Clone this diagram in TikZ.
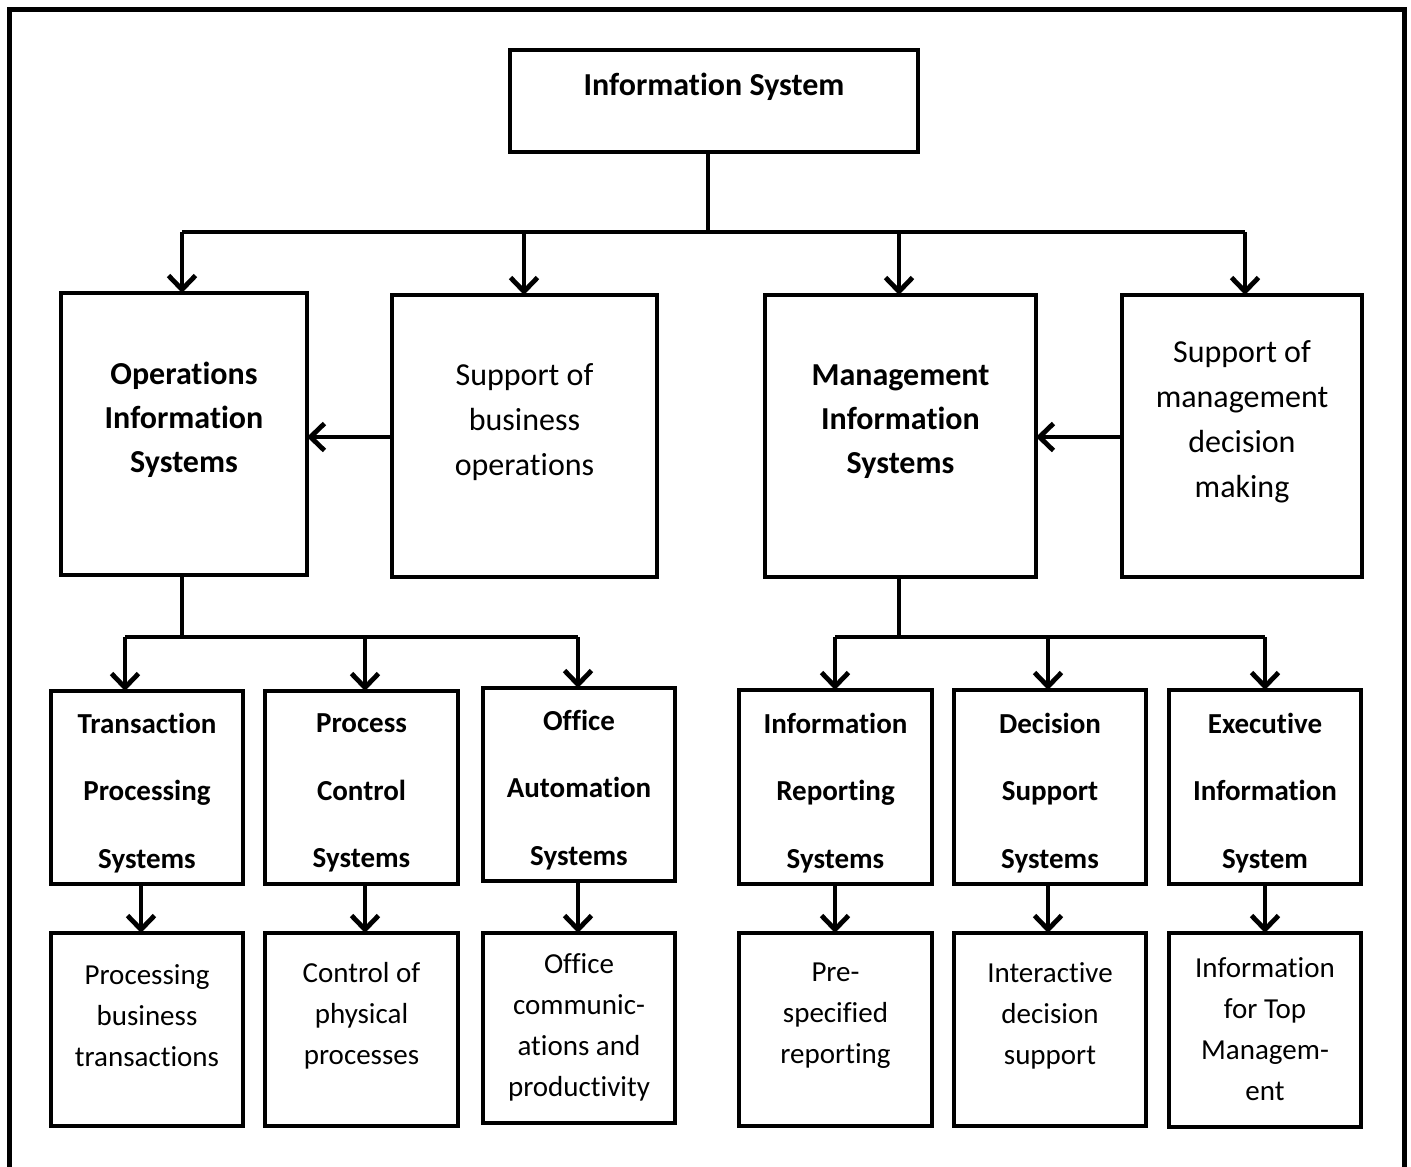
\documentclass[tikz,border=0pt]{standalone}
\usepackage{fontspec}
\setmainfont{Carlito}[RawFeature={-liga;-clig;-calt;-dlig}]
\usetikzlibrary{arrows.meta}

\begin{document}
\begin{tikzpicture}[x=1pt,y=-1pt,
  line width=4.8pt,
  box/.style={draw, rectangle, inner sep=0pt, outer sep=0pt},
  bigtxt/.style={align=center, inner sep=0pt, font=\fontsize{32}{45}\selectfont},
  bigbold/.style={bigtxt, font=\fontsize{32}{44}\selectfont\bfseries},
  midbold/.style={align=center, inner sep=0pt, font=\fontsize{29}{67.5}\selectfont\bfseries},
  smalltxt/.style={align=center, inner sep=0pt, font=\fontsize{29}{41}\selectfont},
  link/.style={line width=4.8pt},
  arr/.style={line width=4.8pt, -{Straight Barb[length=14pt,width=27pt]}}
]
\useasboundingbox (0,0) rectangle (1411,1167);

% outer frame (runs off the bottom of the page)
\draw[line width=5pt] (9.5,1190) -- (9.5,9) -- (1404,9) -- (1404,1190);

% ---- top level ----
\node[box, minimum width=408pt, minimum height=102pt] (is) at (714,101) {};
\node[bigbold] (is-t) at (714,87) {Information System};

% ---- second level ----
\node[box, minimum width=246pt, minimum height=282pt] (ois) at (184,434) {};
\node[bigbold] (ois-t) at (184,420) {Operations\\Information\\Systems};

\node[box, minimum width=265pt, minimum height=282pt] (sbo) at (524.5,436) {};
\node[bigtxt] (sbo-t) at (524.5,422) {Support of\\business\\operations};

\node[box, minimum width=271pt, minimum height=282pt] (mis) at (900.5,436) {};
\node[bigbold] (mis-t) at (900.5,422) {Management\\Information\\Systems};

\node[box, minimum width=240pt, minimum height=282pt] (smd) at (1242,436) {};
\node[bigtxt] (smd-t) at (1242,422) {Support of\\management\\decision\\making};

% ---- third level ----
\node[box, minimum width=192pt, minimum height=193pt] (tps) at (147,787.5) {};
\node[midbold] (tps-t) at (147,793) {Transaction\\Processing\\Systems};

\node[box, minimum width=193pt, minimum height=193pt] (pcs) at (361.5,787.5) {};
\node[midbold] (pcs-t) at (361.5,793) {Process\\Control\\Systems};

\node[box, minimum width=192pt, minimum height=193pt] (oas) at (579,784.5) {};
\node[midbold] (oas-t) at (579,790) {Office\\Automation\\Systems};

\node[box, minimum width=193pt, minimum height=194pt] (irs) at (835.5,787) {};
\node[midbold] (irs-t) at (835.5,793) {Information\\Reporting\\Systems};

\node[box, minimum width=192pt, minimum height=194pt] (dss) at (1050,787) {};
\node[midbold] (dss-t) at (1050,793) {Decision\\Support\\Systems};

\node[box, minimum width=192pt, minimum height=194pt] (eis) at (1265,787) {};
\node[midbold] (eis-t) at (1265,793) {Executive\\Information\\System};

% ---- fourth level ----
\node[box, minimum width=192pt, minimum height=193pt] (tps4) at (147,1029.5) {};
\node[smalltxt] (tps4-t) at (147,1016) {Processing\\business\\transactions};

\node[box, minimum width=193pt, minimum height=193pt] (pcs4) at (361.5,1029.5) {};
\node[smalltxt] (pcs4-t) at (361.5,1016) {Control of\\physical\\processes};

\node[box, minimum width=192pt, minimum height=190pt] (oas4) at (579,1028) {};
\node[smalltxt] (oas4-t) at (579,1027.5) {Office\\communic-\\ations and\\productivity};

\node[box, minimum width=193pt, minimum height=193pt] (irs4) at (835.5,1029.5) {};
\node[smalltxt] (irs4-t) at (835.5,1016) {Pre-\\specified\\reporting};

\node[box, minimum width=192pt, minimum height=193pt] (dss4) at (1050,1029.5) {};
\node[smalltxt] (dss4-t) at (1050,1016) {Interactive\\decision\\support};

\node[box, minimum width=192pt, minimum height=194pt] (eis4) at (1265,1030) {};
\node[smalltxt] (eis4-t) at (1265,1029.5) {Information\\for Top\\Managem-\\ent};

% ---- bus coordinates ----
\coordinate (top-j) at (708,232);
\coordinate (top-l) at (182,232);
\coordinate (top-a) at (524,232);
\coordinate (top-b) at (899,232);
\coordinate (top-r) at (1245,232);

\coordinate (op-j) at (182,637);
\coordinate (op-l) at (125,637);
\coordinate (op-m) at (365,637);
\coordinate (op-r) at (578,637);

\coordinate (mg-j) at (899,637);
\coordinate (mg-l) at (835,637);
\coordinate (mg-m) at (1048,637);
\coordinate (mg-r) at (1265,637);

% ---- connectors: top level ----
\draw[link] (top-j |- is.south) -- (top-j);
\draw[link] (top-l) -- (top-r);
\draw[arr] (top-l) -- (top-l |- ois.north);
\draw[arr] (top-a) -- (top-a |- sbo.north);
\draw[arr] (top-b) -- (top-b |- mis.north);
\draw[arr] (top-r) -- (top-r |- smd.north);

% side arrows
\draw[arr] (sbo.west |- 0,437) -- (ois.east |- 0,437);
\draw[arr] (smd.west |- 0,437) -- (mis.east |- 0,437);

% ---- connectors: operations branch ----
\draw[link] (op-j |- ois.south) -- (op-j);
\draw[link] (op-l) -- (op-r);
\draw[arr] (op-l) -- (op-l |- tps.north);
\draw[arr] (op-m) -- (op-m |- pcs.north);
\draw[arr] (op-r) -- (op-r |- oas.north);

% ---- connectors: management branch ----
\draw[link] (mg-j |- mis.south) -- (mg-j);
\draw[link] (mg-l) -- (mg-r);
\draw[arr] (mg-l) -- (mg-l |- irs.north);
\draw[arr] (mg-m) -- (mg-m |- dss.north);
\draw[arr] (mg-r) -- (mg-r |- eis.north);

% ---- third to fourth level ----
\draw[arr] (141,0 |- tps.south) -- (141,0 |- tps4.north);
\draw[arr] (pcs.south -| op-m) -- (pcs4.north -| op-m);
\draw[arr] (oas.south -| op-r) -- (oas4.north -| op-r);
\draw[arr] (irs.south -| mg-l) -- (irs4.north -| mg-l);
\draw[arr] (dss.south -| mg-m) -- (dss4.north -| mg-m);
\draw[arr] (eis.south -| mg-r) -- (eis4.north -| mg-r);

\end{tikzpicture}
\end{document}
